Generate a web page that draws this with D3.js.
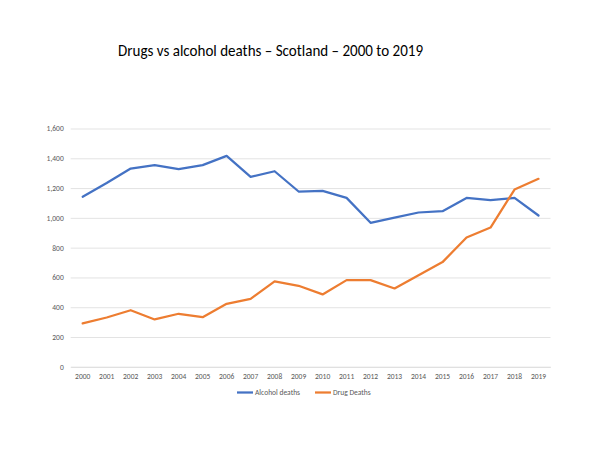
<!DOCTYPE html>
<html>
<head>
<meta charset="utf-8">
<script src="https://cdn.jsdelivr.net/npm/d3@7"></script>
<style>
  body { margin: 0; background: #fff; }
  svg { display: block; font-family: Carlito, "Open Sans", "Liberation Sans", sans-serif; }
</style>
</head>
<body>
<script>
// drugs vs alcohol deaths, Scotland

const years = ["2000","2001","2002","2003","2004","2005","2006","2007","2008","2009",
               "2010","2011","2012","2013","2014","2015","2016","2017","2018","2019"];
const alcoholDeaths = [1142, 1234, 1331, 1354, 1327, 1354, 1416, 1275, 1313, 1177,
                       1181, 1134, 967, 1002, 1036, 1045, 1134, 1119, 1134, 1016];
const drugDeaths = [291, 331, 380, 318, 356, 333, 423, 456, 573, 544,
                    486, 582, 582, 526, 615, 703, 868, 935, 1190, 1262];
const yTicks = [0, 200, 400, 600, 800, 1000, 1200, 1400, 1600];
const seriesNames = ["Alcohol deaths", "Drug Deaths"];

const svgWidth = 600;
const svgHeight = 450;
const plot = { left: 70.7, right: 550.5, top: 128.5, bottom: 366.8 };
const colors = ["#4472C4", "#ED7D31"];

const svg = d3.select('body').append('svg')
  .attr('width', svgWidth)
  .attr('height', svgHeight);

const xScale = d3.scaleBand()
  .domain(years)
  .range([plot.left, plot.right]);

const yScale = d3.scaleLinear()
  .domain([0, 1600])
  .range([plot.bottom, plot.top]);

// title
svg.append('text')
  .attr('x', 270.5)
  .attr('y', 56)
  .attr('text-anchor', 'middle')
  .attr('font-size', '16px')
  .attr('fill', '#000')
  .attr('textLength', 305)
  .attr('lengthAdjust', 'spacingAndGlyphs')
  .text('Drugs vs alcohol deaths \u2013 Scotland \u2013 2000 to 2019');

// gridlines + y labels
const yAxis = d3.axisLeft(yScale)
  .tickValues(yTicks)
  .tickSize(-(plot.right - plot.left))
  .tickPadding(7)
  .tickFormat(d3.format(','));

const gy = svg.append('g')
  .attr('transform', `translate(${plot.left},0)`)
  .call(yAxis);
gy.select('.domain').remove();
gy.selectAll('line').attr('stroke', '#D9D9D9').attr('stroke-width', 0.75);
gy.selectAll('text').attr('fill', '#595959').attr('font-size', '7.5px')
  .attr('font-family', 'Carlito, "Open Sans", sans-serif');

// x labels
const xAxis = d3.axisBottom(xScale)
  .tickSize(0)
  .tickPadding(7);
const gx = svg.append('g')
  .attr('transform', `translate(0,${plot.bottom})`)
  .call(xAxis);
gx.select('.domain').attr('stroke', '#D9D9D9').attr('stroke-width', 0.75);
gx.selectAll('text').attr('fill', '#595959').attr('font-size', '7.5px')
  .attr('font-family', 'Carlito, "Open Sans", sans-serif');

// lines
const line = d3.line()
  .x((d, i) => xScale(years[i]) + xScale.bandwidth() / 2)
  .y(d => yScale(d));

[alcoholDeaths, drugDeaths].forEach((s, i) => {
  svg.append('path')
    .datum(s)
    .attr('fill', 'none')
    .attr('stroke', colors[i])
    .attr('stroke-width', 2.25)
    .attr('stroke-linejoin', 'round')
    .attr('stroke-linecap', 'round')
    .attr('d', line);
});

// legend
const legendX = [237, 315];
const legend = svg.selectAll('.legend')
  .data(seriesNames)
  .enter()
  .append('g')
  .attr('class', 'legend')
  .attr('transform', (d, i) => `translate(${legendX[i]},392.5)`);

legend.append('line')
  .attr('x1', 0).attr('x2', 16)
  .attr('stroke', (d, i) => colors[i])
  .attr('stroke-width', 2.25);

legend.append('text')
  .attr('x', 18)
  .attr('dy', '0.35em')
  .attr('font-size', '7.5px')
  .attr('fill', '#595959')
  .text(d => d);
</script>
</body>
</html>
